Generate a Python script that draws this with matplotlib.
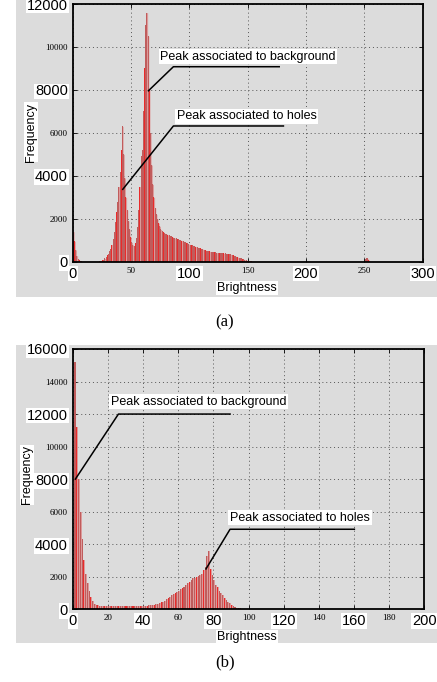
import numpy as np
import matplotlib
matplotlib.use('Agg')
import matplotlib.pyplot as plt
from matplotlib.patches import Rectangle

# ---------------------
# DATA
# ---------------------
# (a) histogram, brightness 0..255
counts_a = (
    [1400, 950, 550, 280, 130, 60, 25, 10, 0, 0] +
    [0] * 10 +
    [0, 0, 10, 20, 40, 70, 100, 150, 220, 300] +
    [380, 480, 600, 800, 1050, 1400, 1850, 2300, 2800, 3500] +
    [4200, 5200, 6300, 5000, 3900, 3000, 2400, 1900, 1500, 1150] +
    [900, 780, 750, 850, 1100, 1600, 2400, 3500, 4900, 5200] +
    [7000, 9000, 11000, 11600, 10500, 8000, 6000, 4500, 3600, 3000] +
    [2500, 2200, 2000, 1800, 1650, 1500, 1420, 1380, 1330, 1300] +
    [1280, 1250, 1220, 1200, 1180, 1150, 1120, 1100, 1080, 1060] +
    [1040, 1020, 1000, 980, 960, 940, 910, 880, 850, 820] +
    [800, 780, 760, 740, 720, 700, 680, 660, 640, 620] +
    [600, 580, 560, 540, 520, 500, 490, 480, 470, 460] +
    [450, 440, 430, 420, 410, 400, 400, 400, 390, 390] +
    [390, 380, 380, 370, 360, 340, 320, 300, 280, 250] +
    [230, 210, 190, 170, 150, 130, 110, 90, 70, 55] +
    [40, 30, 20, 12, 6, 3, 0, 0, 0, 0] +
    [0] * 90 +
    [120, 180, 150, 80, 20, 0]
)

# (b) histogram, brightness 0..99
counts_b = (
    [15200, 11200, 8000, 6000, 4300, 3000, 2200, 1600, 1100, 750] +
    [500, 350, 280, 240, 220, 210, 200, 200, 200, 200] +
    [200, 200, 190, 200, 200, 190, 200, 200, 190, 200] +
    [200, 190, 200, 200, 200, 200, 200, 210, 210, 220] +
    [220, 230, 240, 250, 260, 280, 300, 330, 370, 420] +
    [470, 540, 620, 700, 780, 850, 920, 1000, 1080, 1150] +
    [1230, 1320, 1400, 1500, 1600, 1700, 1800, 1900, 1950, 2000] +
    [2050, 2100, 2200, 2400, 2600, 3300, 3600, 2500, 2100, 1800] +
    [1500, 1350, 1150, 1000, 850, 700, 580, 470, 370, 280] +
    [200, 150, 110, 80, 50, 30, 15, 5, 0, 0]
)

xticks_a = [0, 50, 100, 150, 200, 250, 300]
yticks_a = [0, 2000, 4000, 6000, 8000, 10000, 12000]
xticks_b = [0, 20, 40, 60, 80, 100, 120, 140, 160, 180, 200]
yticks_b = [0, 2000, 4000, 6000, 8000, 10000, 12000, 14000, 16000]
big_x_a = [0, 100, 200, 300]
big_y_a = [0, 4000, 8000, 12000]
big_x_b = [0, 40, 80, 120, 160, 200]
big_y_b = [0, 4000, 8000, 12000, 16000]

# annotations: label, text anchor (x, y), line path
ann_a = [
    ('Peak associated to background', (75, 9550), [(64.9, 7960), (86.3, 9080), (177, 9080)]),
    ('Peak associated to holes', (89, 6770), [(42.9, 3370), (86.3, 6320), (180.6, 6320)]),
]
ann_b = [
    ('Peak associated to background', (21.8, 12770), [(1.5, 8000), (26, 12000), (89.5, 12000)]),
    ('Peak associated to holes', (89.5, 5640), [(75.8, 2480), (89.5, 4920), (160.2, 4920)]),
]

GRAY = '#dcdcdc'
SANS = 'Liberation Sans'
SERIF = 'Liberation Serif'
white_box = dict(facecolor='white', edgecolor='none', pad=0.6)

fig = plt.figure(figsize=(4.37, 6.82), dpi=100)
fig.patch.set_facecolor('white')

# gray panel backgrounds
fig.add_artist(Rectangle((0.0366, 0.5645), 0.9634, 0.4355, transform=fig.transFigure,
                         facecolor=GRAY, edgecolor='none', zorder=-5))
fig.add_artist(Rectangle((0.0366, 0.0572), 0.9634, 0.4369, transform=fig.transFigure,
                         facecolor=GRAY, edgecolor='none', zorder=-5))


def draw_panel(ax, counts, xlim, ylim, xticks, yticks, big_x, big_y, anns, bar_w, shift):
    ax.set_facecolor(GRAY)
    x = np.arange(len(counts)) + shift
    # pale underlay between bars, then the bars themselves
    ax.fill_between(np.append(x, x[-1] + 1), np.append(counts, 0), step='post',
                    color='#dc9a9a', linewidth=0, zorder=2)
    cols = ['#ea2a2a' if i % 4 == 1 else '#c05c5c' for i in range(len(counts))]
    ax.bar(x, counts, width=bar_w, align='edge', color=cols, edgecolor='none', zorder=3)
    ax.set_xlim(*xlim)
    ax.set_ylim(*ylim)
    ax.set_xticks(xticks)
    ax.set_yticks(yticks)
    ax.set_xticklabels([str(t) for t in xticks])
    ax.set_yticklabels([str(t) for t in yticks])
    for lab, t in zip(ax.get_xticklabels(), xticks):
        if t in big_x:
            lab.set_fontfamily(SANS)
            lab.set_fontsize(10.5)
            lab.set_bbox(white_box)
        else:
            lab.set_fontfamily(SERIF)
            lab.set_fontsize(6.5)
    for lab, t in zip(ax.get_yticklabels(), yticks):
        if t in big_y:
            lab.set_fontfamily(SANS)
            lab.set_fontsize(10.5)
            lab.set_bbox(white_box)
        else:
            lab.set_fontfamily(SERIF)
            lab.set_fontsize(6.5)
    ax.tick_params(direction='in', length=3, width=0.6, top=True, right=True, pad=3.5)
    ax.grid(True, linestyle=(0, (1, 3)), color='#555555', linewidth=0.7, zorder=1)
    ax.set_axisbelow(True)
    for sp in ax.spines.values():
        sp.set_linewidth(1.3)
        sp.set_color('black')
        sp.set_zorder(5)
    for text, (tx, ty), path in anns:
        px, py = zip(*path)
        ax.plot(px, py, color='black', linewidth=1.1, zorder=4)
        ax.text(tx, ty, text, fontfamily=SANS, fontsize=9, ha='left', va='center',
                bbox=dict(facecolor='white', edgecolor='none', pad=1.2), zorder=6)


ax_a = fig.add_axes([0.1664, 0.6163, 0.8009, 0.3778])
draw_panel(ax_a, counts_a, (0, 300), (0, 12000), xticks_a, yticks_a, big_x_a, big_y_a,
           ann_a, 0.8, 0.2)
ax_b = fig.add_axes([0.1664, 0.1066, 0.8046, 0.3817])
draw_panel(ax_b, counts_b, (0, 200), (0, 16000), xticks_b, yticks_b, big_x_b, big_y_b,
           ann_b, 0.6, 1.0)

# axis labels placed in figure coordinates
fig.text(247 / 437, 1 - 288 / 682, 'Brightness', fontfamily=SANS, fontsize=9,
         ha='center', va='center', bbox=white_box)
fig.text(247 / 437, 1 - 637 / 682, 'Brightness', fontfamily=SANS, fontsize=9,
         ha='center', va='center', bbox=white_box)
fig.text(31 / 437, 1 - 132 / 682, 'Frequency', fontfamily=SANS, fontsize=9, rotation=90,
         ha='center', va='center', bbox=white_box)
fig.text(27 / 437, 1 - 475 / 682, 'Frequency', fontfamily=SANS, fontsize=9, rotation=90,
         ha='center', va='center', bbox=white_box)

# captions
fig.text(225 / 437, 1 - 322 / 682, '(a)', fontfamily=SERIF, fontsize=12, ha='center', va='center')
fig.text(225 / 437, 1 - 662 / 682, '(b)', fontfamily=SERIF, fontsize=12, ha='center', va='center')

fig.savefig('out.png', dpi=100)
